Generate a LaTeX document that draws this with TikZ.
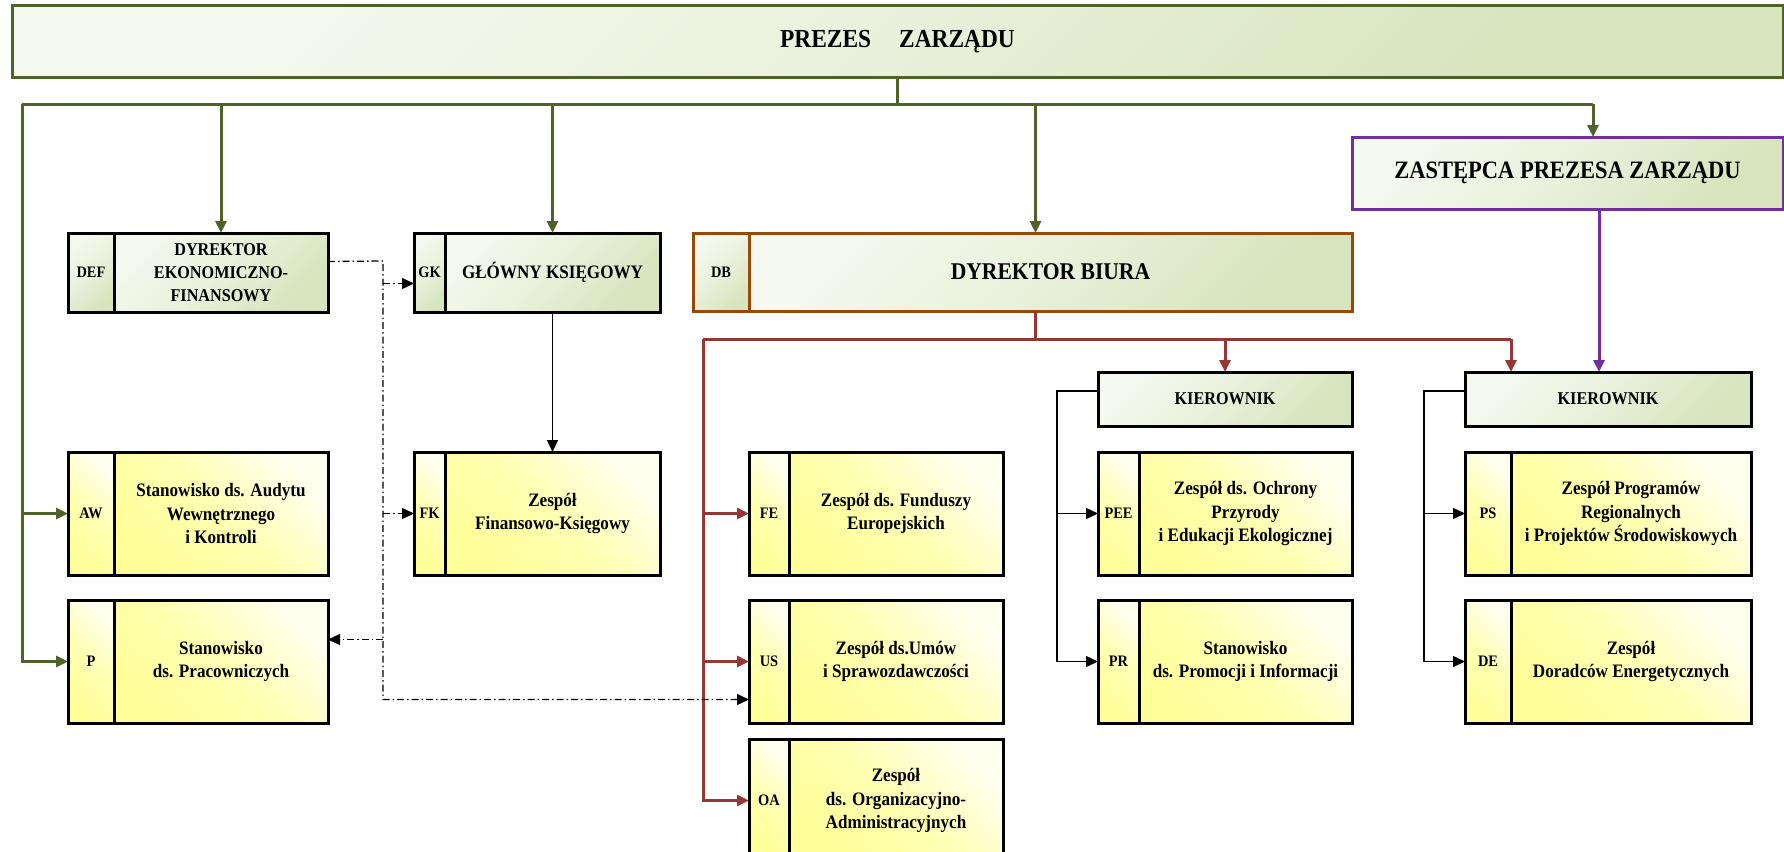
\documentclass[tikz,border=0pt]{standalone}
\usepackage{fontspec}
\setmainfont{Liberation Serif}[FakeStretch=0.9]
\usetikzlibrary{positioning,arrows.meta}

\definecolor{grnline}{HTML}{4F6228}
\definecolor{redline}{HTML}{953735}
\definecolor{purpline}{HTML}{7030A0}
\definecolor{brnline}{HTML}{984807}
\definecolor{grnfill}{HTML}{D7E4BD}
\definecolor{ylwfill}{HTML}{FFFF99}

\tikzset{
  box/.style={draw, line width=3pt, outer sep=0pt, inner sep=2pt, align=center},
  gbox/.style={box, top color=grnfill!25, bottom color=grnfill, middle color=grnfill!55, shading angle=45},
  ybox/.style={box, top color=ylwfill!15, bottom color=ylwfill, middle color=ylwfill!75, shading angle=-45, minimum height=123},
  lab/.style={font=\bfseries\fontsize{16}{18}\selectfont},
  txt/.style={font=\bfseries\fontsize{19}{23.5}\selectfont},
  gline/.style={grnline, line width=3pt},
  rline/.style={redline, line width=3pt},
  pline/.style={purpline, line width=3pt},
  kline/.style={black, line width=1.3pt},
  dline/.style={black, line width=1.3pt, dash pattern=on 7pt off 3pt on 1.5pt off 3pt},
  >={Triangle[length=12pt,width=11pt]}
}

\begin{document}
\begin{tikzpicture}[x=1pt,y=-1pt]
  \useasboundingbox (0,0) rectangle (1784,851);

  % top level
  \node[gbox, draw=grnline, minimum width=1771, minimum height=71,
    font=\bfseries\fontsize{26}{30}\selectfont] (prezes) at (897.5,41.5) {PREZES\hspace{28pt}ZARZĄDU};
  \node[gbox, draw=purpline, minimum width=431, minimum height=72,
    font=\bfseries\fontsize{25}{30}\selectfont] (zpz) at (1567.5,173) {ZASTĘPCA PREZESA ZARZĄDU};

  % directors
  \node[gbox, lab, minimum width=46, minimum height=79, anchor=north west] (def-l) at (68,233) {DEF};
  \node[gbox, minimum width=214, minimum height=79, right=0pt of def-l,
    font=\bfseries\fontsize{18}{23}\selectfont] (def) {DYREKTOR\\EKONOMICZNO-\\FINANSOWY};
  \node[gbox, lab, minimum width=31, minimum height=79, anchor=north west] (gk-l) at (414,233) {GK};
  \node[gbox, minimum width=215, minimum height=79, right=0pt of gk-l,
    font=\bfseries\fontsize{19}{23}\selectfont] (gk) {GŁÓWNY KSIĘGOWY};
  \node[gbox, lab, draw=brnline, minimum width=56, minimum height=78, anchor=north west] (db-l) at (693,233) {DB};
  \node[gbox, draw=brnline, minimum width=603, minimum height=78, right=0pt of db-l,
    font=\bfseries\fontsize{24}{28}\selectfont] (db) {DYREKTOR BIURA};

  \node[gbox, minimum width=254, minimum height=54, anchor=north west,
    font=\bfseries\fontsize{18}{22}\selectfont] (kier1) at (1098,372) {KIEROWNIK};
  \node[gbox, minimum width=286, minimum height=54, anchor=north west,
    font=\bfseries\fontsize{18}{22}\selectfont] (kier2) at (1465,372) {KIEROWNIK};

  % units
  \foreach \n/\x/\y/\lw/\bw/\lb/\tx in {
    aw/68/452/46/214/AW/{Stanowisko ds. Audytu\\Wewnętrznego\\i Kontroli},
    p/68/600/46/214/P/{Stanowisko\\ds. Pracowniczych},
    fk/414/452/31/215/FK/{Zespół\\Finansowo-Księgowy},
    fe/749/452/40/214/FE/{Zespół ds. Funduszy\\Europejskich},
    us/749/600/40/214/US/{Zespół ds.Umów\\i Sprawozdawczości},
    oa/749/739/40/214/OA/{Zespół\\ds. Organizacyjno-\\Administracyjnych},
    pee/1098/452/41/213/PEE/{Zespół ds. Ochrony\\Przyrody\\i Edukacji Ekologicznej},
    pr/1098/600/41/213/PR/{Stanowisko\\ds. Promocji i Informacji},
    ps/1465/452/46/240/PS/{Zespół Programów\\Regionalnych\\i Projektów Środowiskowych},
    de/1465/600/46/240/DE/{Zespół\\Doradców Energetycznych}}
  {
    \node[ybox, lab, minimum width=\lw, anchor=north west] (\n-l) at (\x,\y) {\lb};
    \node[ybox, txt, minimum width=\bw, right=0pt of \n-l] (\n) {\tx};
  }

  % green lines
  \coordinate (busl) at (22,104);
  \coordinate (busr) at (1593,104);
  \coordinate (dbtop) at ([xshift=-15pt]db.north);
  \coordinate (dbbot) at ([xshift=-15pt]db.south);
  \draw[gline] (prezes.south) -- (prezes.south |- busl);
  \draw[gline] (busl) -- (busr);
  \draw[gline,->] (busl -| def.north) -- (def.north);
  \draw[gline,->] (busl -| gk.north) -- (gk.north);
  \draw[gline,->] (busl -| dbtop) -- (dbtop);
  \draw[gline,->] (busr) -- (busr |- zpz.north);
  \draw[gline,->] (busl) |- (aw-l.west);
  \draw[gline,->] (busl) |- (p-l.west);

  % red lines
  \coordinate (redl) at (703,339);
  \coordinate (redr) at (1511,339);
  \draw[rline] (dbbot) -- (redl -| dbbot);
  \draw[rline] (redl) -- (redr);
  \draw[rline,->] (redr) -- (redr |- kier2.north);
  \draw[rline,->] (redl -| kier1.north) -- (kier1.north);
  \draw[rline,->] (redl) |- (oa-l.west);
  \draw[rline,->] (redl |- fe-l.west) -- (fe-l.west);
  \draw[rline,->] (redl |- us-l.west) -- (us-l.west);

  % purple
  \coordinate (k2top) at ([xshift=-9pt]kier2.north);
  \draw[pline,->] (zpz.south -| k2top) -- (k2top);

  % kierownik
  \coordinate (k1) at (1057,391);
  \coordinate (k2) at (1424,391);
  \draw[kline,->] ([yshift=8pt]kier1.west) -- (k1) |- (pr-l.west);
  \draw[kline,->] (k1 |- pee-l.west) -- (pee-l.west);
  \draw[kline,->] ([yshift=8pt]kier2.west) -- (k2) |- (de-l.west);
  \draw[kline,->] (k2 |- ps-l.west) -- (ps-l.west);
  \draw[kline,->] (gk.south) -- (fk.north);

  % dash-dot
  \coordinate (dtop) at (383,261);
  \coordinate (gkin) at ([yshift=-11pt]gk-l.west);
  \coordinate (pin) at ([yshift=22pt]p.east);
  \coordinate (usin) at ([yshift=-38pt]us-l.west);
  \draw[dline,->] ([yshift=11pt]def.east) -- (dtop) -- (dtop |- usin) -- (usin);
  \draw[dline,->] (dtop |- gkin) -- (gkin);
  \draw[dline,->] (dtop |- fk-l.west) -- (fk-l.west);
  \draw[dline,->] (dtop |- pin) -- (pin);
\end{tikzpicture}
\end{document}
